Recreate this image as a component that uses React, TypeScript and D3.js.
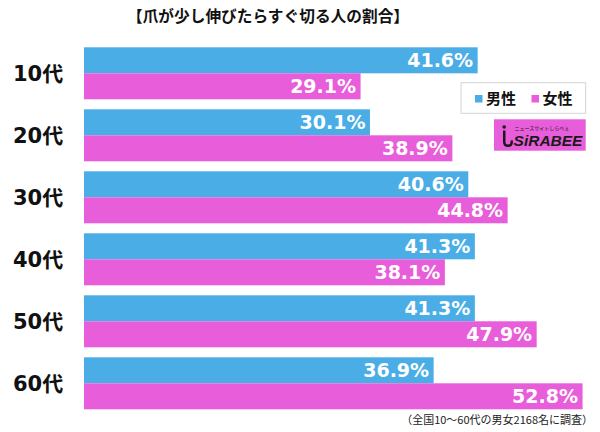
import React from "react";
import * as d3 from "d3";

const categories = ["10代", "20代", "30代", "40代", "50代", "60代"];
const series = ["男性", "女性"];
const maleValues = [41.6, 30.1, 40.6, 41.3, 41.3, 36.9];
const femaleValues = [29.1, 38.9, 44.8, 38.1, 47.9, 52.8];
const title = "【爪が少し伸びたらすぐ切る人の割合】";
const footnote = "（全国10〜60代の男女2168名に調査）";

const BLUE = "#4aade6";
const PINK = "#e85dd9";
const colors = [BLUE, PINK];

export default function App() {
  const W = 600;
  const H = 432;
  const barStart = 84;
  const x = d3.scaleLinear().domain([0, 60]).range([88, 650]);
  const y = d3
    .scaleBand<string>()
    .domain(categories)
    .range([47.3, 409.3])
    .paddingInner(10 / 62)
    .paddingOuter(0);
  const ySub = d3.scaleBand<string>().domain(series).range([0, y.bandwidth()]);
  const valuesBySeries = [maleValues, femaleValues];
  const numFont = "'DejaVu Sans', 'Noto Sans CJK JP', sans-serif";
  const cjkFont = "'Noto Sans CJK JP', sans-serif";

  return (
    <svg
      width={W}
      height={H}
      viewBox={`0 0 ${W} ${H}`}
      style={{ position: "absolute", left: 0, top: 0, background: "#fff" }}
    >
      <rect x={0} y={0} width={W} height={H} fill="#fff" />
      <text
        x={268}
        y={21.5}
        textAnchor="middle"
        fontFamily={cjkFont}
        fontWeight="bold"
        fontSize={15.7}
        fill="#111"
      >
        {title}
      </text>

      {categories.map((c, i) => (
        <g key={c}>
          <text
            x={13}
            y={(y(c) as number) + y.bandwidth() / 2}
            dy="0.36em"
            fontFamily={numFont}
            fontWeight="bold"
            fontSize={21}
            fill="#111"
          >
            {c}
          </text>
          {series.map((s, si) => {
            const v = valuesBySeries[si][i];
            const by = (y(c) as number) + (ySub(s) as number);
            const bh = ySub.bandwidth();
            const xe = x(v);
            return (
              <g key={s}>
                <rect x={barStart} y={by} width={xe - barStart} height={bh} fill={colors[si]} />
                <text
                  x={xe - 4.5}
                  y={by + bh / 2}
                  dy="0.37em"
                  textAnchor="end"
                  fontFamily={numFont}
                  fontWeight="bold"
                  fontSize={19}
                  fill="#fff"
                >
                  {v.toFixed(1)}%
                </text>
              </g>
            );
          })}
        </g>
      ))}

      {/* legend */}
      <rect x={461} y={82.7} width={124.7} height={30.6} fill="#fff" stroke="#d4d4d4" strokeWidth={1} />
      {series.map((s, si) => {
        const lx = [475, 531.5][si];
        return (
          <g key={s}>
            <rect x={lx} y={95} width={7.5} height={7.5} fill={colors[si]} />
            <text
              x={lx + 11}
              y={98.8}
              dy="0.36em"
              fontFamily={cjkFont}
              fontWeight="bold"
              fontSize={15}
              fill="#111"
            >
              {s}
            </text>
          </g>
        );
      })}

      {/* logo */}
      <rect x={494} y={119.3} width={91.7} height={31.4} fill={PINK} />
      <path
        d="M503 130.5 L503 142 Q503 147 508 147 Q513 147 513 142 L513 140.5 L510.5 140.5 L510.5 142 Q510.5 144.5 508 144.5 Q505.5 144.5 505.5 142 L505.5 130.5 Z"
        fill="#1a1a1a"
      />
      <circle cx={504.2} cy={127} r={1.8} fill="#1a1a1a" />
      <text
        x={542}
        y={129.5}
        textAnchor="middle"
        fontFamily={cjkFont}
        fontSize={5}
        fill="#1a1a1a"
      >
        ニュースサイトしらべぇ
      </text>
      <text
        x={548}
        y={146}
        textAnchor="middle"
        fontFamily="'Liberation Sans', sans-serif"
        fontWeight="bold"
        fontStyle="italic"
        fontSize={15.5}
        fill="#1a1a1a"
      >
        SiRABEE
      </text>

      <text
        x={593}
        y={424}
        textAnchor="end"
        fontFamily={cjkFont}
        fontSize={11}
        fill="#222"
      >
        {footnote}
      </text>
    </svg>
  );
}
